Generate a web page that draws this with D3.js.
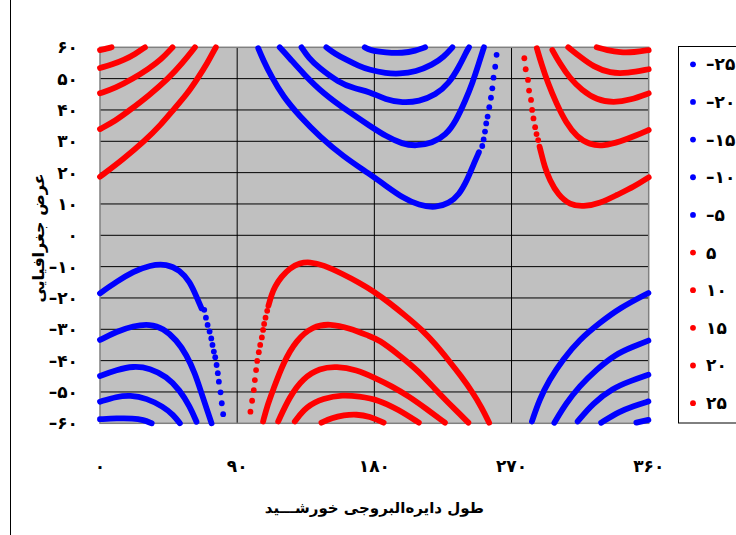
<!DOCTYPE html>
<html>
<head>
<meta charset="utf-8">
<title>عرض جغرافیایی و طول دایره‌البروجی خورشید</title>
<script src="https://d3js.org/d3.v7.min.js"></script>
<style>
  body { margin: 0; background: #fff; }
  svg text { font-family: "DejaVu Sans", sans-serif; font-weight: bold; fill: #000; }
</style>
</head>
<body>
<div id="chart"></div>
<script>
// ---- data (longitude, latitude) ----
const xTicks = [0, 90, 180, 270, 360];
const xTickLabels = ["۰", "۹۰", "۱۸۰", "۲۷۰", "۳۶۰"];
const yTicks = [-60, -50, -40, -30, -20, -10, 0, 10, 20, 30, 40, 50, 60];
const yTickLabels = ["–۶۰", "–۵۰", "–۴۰", "–۳۰", "–۲۰", "–۱۰", "۰", "۱۰", "۲۰", "۳۰", "۴۰", "۵۰", "۶۰"];

const seriesValues = [-25, -20, -15, -10, -5, 5, 10, 15, 20, 25];
const seriesLabels = ["–۲۵", "–۲۰", "–۱۵", "–۱۰", "–۵", "۵", "۱۰", "۱۵", "۲۰", "۲۵"];

// blue series
const neg25 = [
  [[0,-58.7],[10.9,-58.4],[21.8,-58.4],[28.4,-58.9],[33.9,-60]],
  [[173.7,60],[176.7,59.1],[187.6,58.3],[198.5,58.1],[207.2,58.9],[213.3,60]],
  [[351.9,-59.8],[359.8,-58.9]]
];
const neg20 = [
  [[0,-53.1],[10.9,-51.5],[19.7,-51],[30.6,-52],[41.5,-54.7],[48.1,-57.3],[52.4,-60]],
  [[148.5,60],[154,58],[160.9,56.2],[170,54],[176.7,52.8],[187.6,51.7],[196.3,51.5],[207.2,52.2],[218.1,54.4],[225.8,57],[231.2,60]],
  [[328.8,-59.8],[340.9,-56.2],[350,-54.5],[359.8,-53]]
];
const neg15 = [
  [[0,-44.9],[10.9,-43],[21.8,-41.7],[32.8,-42.4],[43.7,-45.1],[52.4,-49.4],[59,-54.7],[63.3,-59.5]],
  [[132.2,60],[137,56.5],[143.3,53.6],[156.5,48.8],[167,46.8],[176.7,45.9],[187.6,43.2],[198.5,42.3],[209.4,42.7],[220.3,44.8],[229,48.5],[235.6,53.8],[239.9,58.1],[242.1,60]],
  [[313.4,-59.4],[323.3,-53.6],[336.5,-48.8],[348,-46.5],[359.8,-44.5]]
];
const neg10 = [
  [[0,-33.4],[10.9,-30.7],[21.8,-28.9],[32.8,-28.3],[41.5,-29.7],[50.2,-33.4],[56.8,-38.2],[62.3,-44],[66.6,-50.4],[71,-56.8],[73.2,-60]],
  [[117.9,60],[124.5,56.5],[133.2,51.7],[146.3,45.3],[163.8,39.2],[176.8,35],[187.6,31.6],[198.5,29.1],[207.2,28.5],[218.1,29.4],[226.9,32],[233.4,36.3],[239.9,43.2],[244.3,48.5],[248.6,54.9],[251.9,60]],
  [[298.1,-59.8],[305.8,-53.6],[314.5,-48.2],[325.5,-42.9],[338.7,-37.8],[350,-35.5],[359.8,-33.6]]
];
const neg5 = [
  [[0,-18.5],[10.9,-14.8],[21.8,-11.6],[32.8,-9.5],[43.7,-9.1],[52.4,-11.1],[59,-14.8],[63.3,-19.6],[66.6,-23.3]],
  [[103.8,59.7],[107,56],[112.5,50.6],[120.1,44.3],[131.1,37.9],[144.2,31.5],[159.5,25.2],[176.7,19.6],[187.6,15.8],[198.5,12],[209.4,9.5],[220.3,8.8],[229,10.2],[235.6,12.9],[241,17.7],[245.4,23],[248.6,26.5]],
  [[283.4,-59.4],[288.2,-52.5],[294.8,-46.1],[303.6,-39.7],[314.5,-33.3],[327.7,-28],[340.9,-23.2],[359.8,-18.4]]
];
const neg5Dots = [
  [68.4,-23.8],[69.5,-26.3],[70.6,-28.6],[71.9,-30.7],[73,-32.9],[73.8,-35],[74.7,-37.1],[75.6,-38.9],[76.5,-41.4],[77.3,-44],[78,-46.7],[79.1,-50.1],[79.9,-53.6],[80.8,-57.1],
  [250.8,28.5],[251.7,30.6],[252.6,33.1],[253.4,35.7],[254.3,37.9],[255.4,40.9],[256.5,43.9],[257.4,46.9],[258.2,50.3],[259.3,53.8],[260.2,57.6]
];

// red series
const pos5 = [
  [[0,18.7],[15,24.2],[29.5,30.2],[40,35.3],[48,40],[57,45],[64,50],[70.5,55],[76,60]],
  [[110.5,-22.5],[112.5,-19],[114.7,-16.4],[119,-13.2],[124.5,-10.5],[131.1,-8.8],[137.6,-8.5],[146.4,-9.4],[159.5,-12.4],[170,-15.1],[180,-18],[190,-21.6],[200,-25.5],[211.4,-30.2],[220,-34.7],[228.9,-40],[237,-45],[244.3,-50],[250.5,-55],[255.3,-59.8]],
  [[288.4,28.3],[289.5,26.2],[291.7,21.9],[295,17.7],[300.5,12.9],[308.3,9.7],[317.1,9.1],[328.2,10.2],[339.2,12.9],[350.3,15.5],[360,18.5]]
];
const pos5Dots = [
  [98.7,-56.3],[99.8,-52.8],[100.9,-49.4],[101.6,-46.2],[102.4,-43],[103.1,-40.1],[104.2,-37.3],[105.1,-35],[106.2,-32.6],[107,-30.2],[107.7,-28.3],[108.6,-26.3],[109.7,-24.1],
  [278.4,56.5],[279.3,53],[280.8,49.6],[281.5,46.2],[282.8,43.2],[283.5,40],[284.4,37.3],[285.5,34.5],[286.4,32.3],[287.5,30.4]
];
const pos10 = [
  [[0,33.9],[10,36.5],[19.7,40],[32,44.6],[44.8,50],[54,54.9],[62.3,60]],
  [[107,-59.4],[110,-54],[113.6,-49.3],[120.1,-40.8],[128.9,-33.3],[139.8,-29],[150.7,-28.2],[163.8,-29.6],[176.9,-32.2],[182.9,-33.3],[196,-38.1],[209.2,-43.4],[220.2,-49.3],[228.9,-53.6],[235.5,-56.8],[241.7,-59.8]],
  [[286.6,59.7],[289.5,54.9],[293.9,48.5],[299.4,42.1],[306,35.7],[312.7,31.5],[321.5,28.8],[330.4,28.5],[341.4,29.9],[352.5,32],[360,33.6]]
];
const pos15 = [
  [[0,45.3],[10,47],[21.8,50],[32,53.2],[40,56],[47.6,60]],
  [[116.9,-59.4],[124.5,-51.4],[133.2,-45.6],[144.2,-42.4],[155.1,-41.8],[168.2,-42.9],[180.7,-45.6],[191.6,-48.2],[202.6,-51.4],[213.6,-55.2],[226.3,-59.8]],
  [[296.8,59.1],[301.6,54.9],[308.3,50.1],[316,46.4],[325.9,43.2],[337,42.3],[348.1,43.2],[360,45.3]]
];
const pos20 = [
  [[0,53.4],[8,54.5],[16,56],[23,57.8],[29.5,60]],
  [[127.8,-59.4],[135.4,-54.6],[146.4,-52],[159.5,-50.9],[169.7,-51.4],[182.9,-52.5],[196,-55.7],[209.2,-59.8]],
  [[307.2,60],[314.9,57],[323.7,53.8],[334.8,51.7],[345.9,51.7],[360,53]]
];
const pos25 = [
  [[0,59.1],[3.5,59.5],[7.6,60]],
  [[145.3,-59.8],[152,-58.3],[160,-57.4],[168.2,-57.1],[176.9,-57.8],[186.1,-59.8]],
  [[325.9,60],[332.6,59.1],[341.4,58.3],[350.3,58.4],[360,59.1]]
];

const blue = "#0000ff", red = "#ff0000";
const series = [
  { lines: neg25, dots: [], color: blue },
  { lines: neg20, dots: [], color: blue },
  { lines: neg15, dots: [], color: blue },
  { lines: neg10, dots: [], color: blue },
  { lines: neg5, dots: neg5Dots, color: blue },
  { lines: pos5, dots: pos5Dots, color: red },
  { lines: pos10, dots: [], color: red },
  { lines: pos15, dots: [], color: red },
  { lines: pos20, dots: [], color: red },
  { lines: pos25, dots: [], color: red }
];

// ---- layout ----
const width = 736, height = 535;
const plot = { left: 100, right: 648.7, top: 47.3, bottom: 423.3 };

const svg = d3.select("#chart").append("svg")
  .attr("width", width)
  .attr("height", height);

// chart area frame (only its left edge falls inside the picture)
svg.append("line")
  .attr("x1", 10.5).attr("x2", 10.5)
  .attr("y1", 0).attr("y2", height)
  .attr("stroke", "#000").attr("stroke-width", 1);

const x = d3.scaleLinear().domain([0, 360]).range([plot.left, plot.right]);
const y = d3.scaleLinear().domain([-60, 60]).range([plot.bottom, plot.top]);

// plot background
svg.append("rect")
  .attr("x", plot.left).attr("y", plot.top)
  .attr("width", plot.right - plot.left)
  .attr("height", plot.bottom - plot.top)
  .attr("fill", "#c0c0c0");

// gridlines
svg.append("g").selectAll("line")
  .data(yTicks.slice(1, -1))
  .join("line")
  .attr("x1", plot.left).attr("x2", plot.right)
  .attr("y1", d => y(d)).attr("y2", d => y(d))
  .attr("stroke", "#000").attr("stroke-width", 1);

svg.append("g").selectAll("line")
  .data(xTicks.slice(1, -1))
  .join("line")
  .attr("x1", d => x(d)).attr("x2", d => x(d))
  .attr("y1", plot.top).attr("y2", plot.bottom)
  .attr("stroke", "#000").attr("stroke-width", 1);

svg.append("rect")
  .attr("x", plot.left).attr("y", plot.top)
  .attr("width", plot.right - plot.left)
  .attr("height", plot.bottom - plot.top)
  .attr("fill", "none")
  .attr("stroke", "#808080").attr("stroke-width", 1.5);

// tick labels
svg.append("g").selectAll("text")
  .data(yTicks)
  .join("text")
  .attr("x", 78)
  .attr("y", d => y(d))
  .attr("dy", "0.35em")
  .attr("text-anchor", "end")
  .attr("font-size", 17)
  .text((d, i) => yTickLabels[i]);

svg.append("g").selectAll("text")
  .data(xTicks)
  .join("text")
  .attr("x", d => x(d))
  .attr("y", 466)
  .attr("dy", "0.35em")
  .attr("text-anchor", "middle")
  .attr("font-size", 17)
  .text((d, i) => xTickLabels[i]);

// axis titles
svg.append("text")
  .attr("x", (plot.left + plot.right) / 2)
  .attr("y", 508)
  .attr("dy", "0.35em")
  .attr("text-anchor", "middle")
  .attr("direction", "rtl")
  .attr("font-size", 15)
  .text("طول دایره\u200cالبروجی خورشـــید");

svg.append("text")
  .attr("transform", "translate(38,238) rotate(-90)")
  .attr("dy", "0.35em")
  .attr("text-anchor", "middle")
  .attr("direction", "rtl")
  .attr("font-size", 16)
  .text("عرض  جغرافیایی");

// series
const line = d3.line()
  .x(d => x(d[0]))
  .y(d => y(d[1]))
  .curve(d3.curveBasis);

const g = svg.append("g");
series.forEach(s => {
  g.append("g").selectAll("path")
    .data(s.lines)
    .join("path")
    .attr("d", line)
    .attr("fill", "none")
    .attr("stroke", s.color)
    .attr("stroke-width", 5.8)
    .attr("stroke-linecap", "round")
    .attr("stroke-linejoin", "round");
  g.append("g").selectAll("circle")
    .data(s.dots)
    .join("circle")
    .attr("cx", d => x(d[0]))
    .attr("cy", d => y(d[1]))
    .attr("r", 2.9)
    .attr("fill", s.color);
});

// legend
const legend = svg.append("g");
legend.append("rect")
  .attr("x", 678.5).attr("y", 46.5)
  .attr("width", 80).attr("height", 376.5)
  .attr("fill", "#fff")
  .attr("stroke", "#000").attr("stroke-width", 1);

const item = legend.selectAll("g.item")
  .data(seriesValues)
  .join("g")
  .attr("class", "item")
  .attr("transform", (d, i) => `translate(693,${64.3 + i * 37.65})`);

item.append("circle")
  .attr("r", 2.9)
  .attr("fill", (d, i) => series[i].color);

item.append("text")
  .attr("x", 13)
  .attr("dy", "0.35em")
  .attr("font-size", 17)
  .text((d, i) => seriesLabels[i]);
</script>
</body>
</html>
